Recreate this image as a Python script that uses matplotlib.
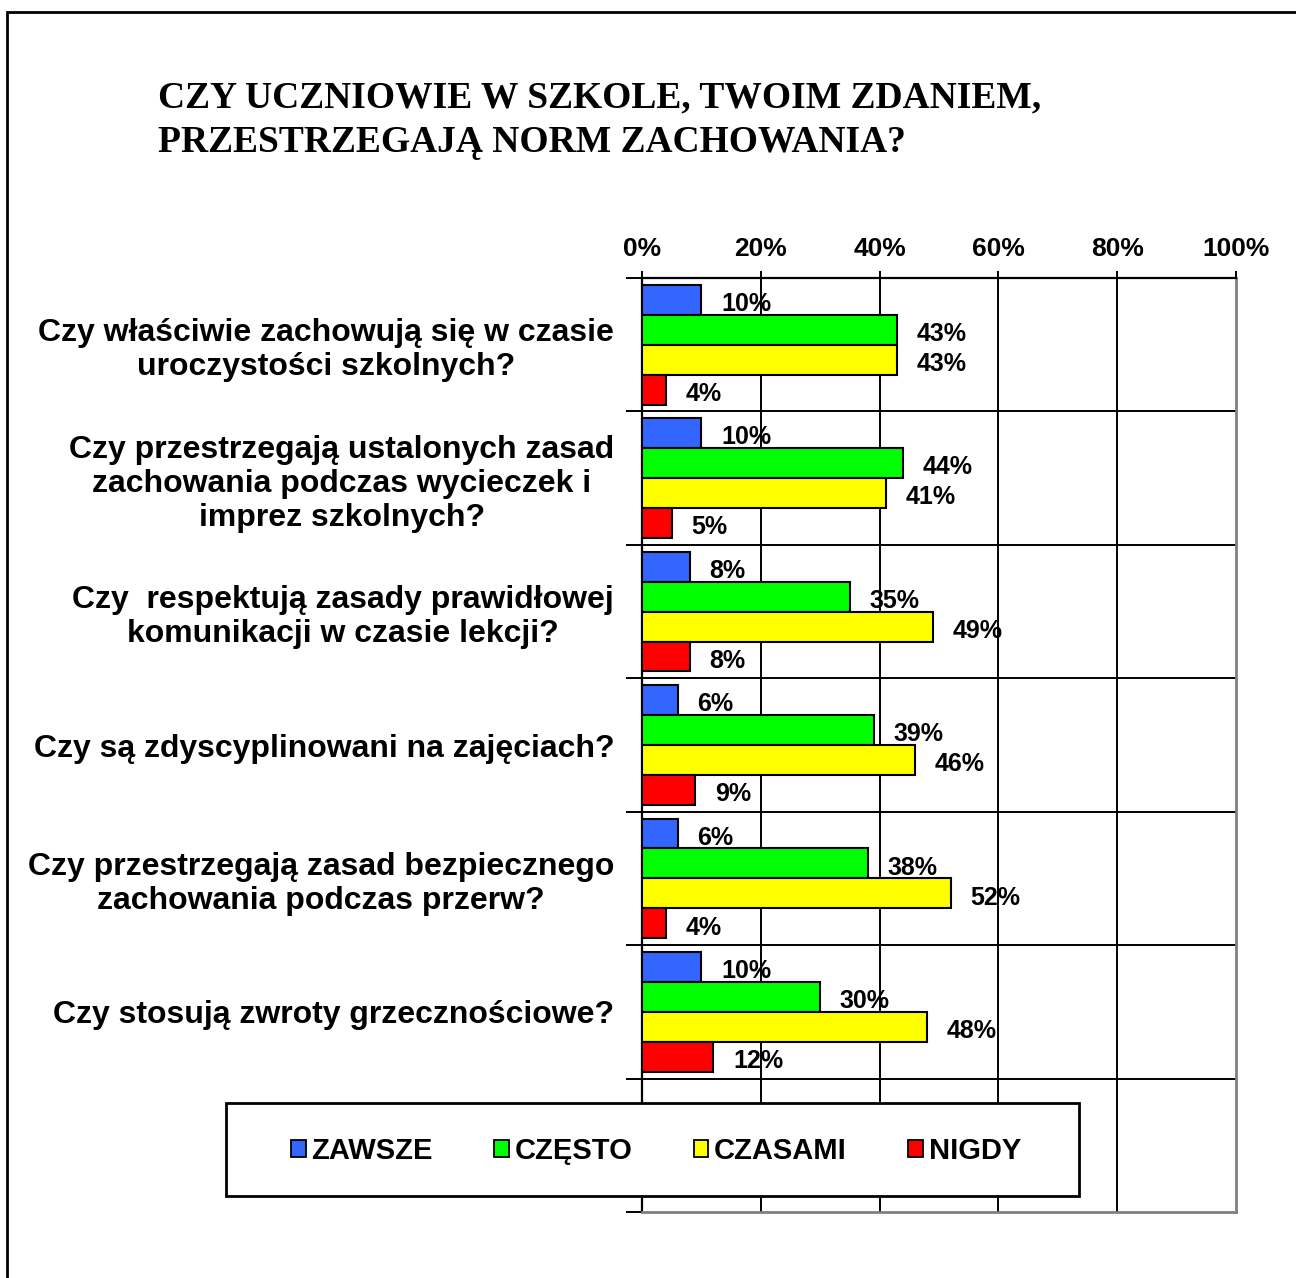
import matplotlib
matplotlib.use("Agg")
import matplotlib.pyplot as plt
from matplotlib.patches import Rectangle, Patch
import numpy as np

categories = [
    "Czy właściwie zachowują się w czasie\nuroczystości szkolnych?",
    "Czy przestrzegają ustalonych zasad\nzachowania podczas wycieczek i\nimprez szkolnych?",
    "Czy  respektują zasady prawidłowej\nkomunikacji w czasie lekcji?",
    "Czy są zdyscyplinowani na zajęciach?",
    "Czy przestrzegają zasad bezpiecznego\nzachowania podczas przerw?",
    "Czy stosują zwroty grzecznościowe?",
]
series_names = ["ZAWSZE", "CZĘSTO", "CZASAMI", "NIGDY"]
zawsze = [10, 10, 8, 6, 6, 10]
czesto = [43, 44, 35, 39, 38, 30]
czasami = [43, 41, 49, 46, 52, 48]
nigdy = [4, 5, 8, 9, 4, 12]
xticks = [0, 20, 40, 60, 80, 100]
title_lines = ["CZY UCZNIOWIE W SZKOLE, TWOIM ZDANIEM,",
               "PRZESTRZEGAJĄ NORM ZACHOWANIA?"]

colors = ["#3366FF", "#00FF00", "#FFFF00", "#FF0000"]
series = [zawsze, czesto, czasami, nigdy]

W, H = 1296, 1278
fig = plt.figure(figsize=(W / 100, H / 100), dpi=100)
fig.patch.set_facecolor("white")

def fx(px):
    return px / W

def fy(py):
    return 1 - py / H

ax = fig.add_axes([fx(642), fy(1212), fx(1236) - fx(642), fy(278) - fy(1212)])
n_slots = 7
ax.set_xlim(0, 100)
ax.set_ylim(n_slots, 0)

bh = 0.2245
for k, (vals, col) in enumerate(zip(series, colors)):
    ys = np.arange(len(categories)) + 0.5 + (k - 1.5) * bh
    ax.barh(ys, vals, height=bh, color=col, edgecolor="black", linewidth=1.5, zorder=3)
    for y, v in zip(ys, vals):
        ax.annotate(f"{v}%", xy=(v + 3.3, y), xytext=(0, -3), textcoords="offset points",
                    ha="left", va="center", fontsize=18, fontweight="bold",
                    family="Liberation Sans", zorder=4)

# grid
for x in xticks[1:-1]:
    ax.axvline(x, color="black", lw=1.4, zorder=1)
for y in range(1, n_slots):
    ax.axhline(y, color="black", lw=1.4, zorder=1)

# spines
ax.spines["top"].set_color("black")
ax.spines["top"].set_linewidth(1.6)
ax.spines["left"].set_color("black")
ax.spines["left"].set_linewidth(1.6)
ax.spines["right"].set_color("#808080")
ax.spines["right"].set_linewidth(2)
ax.spines["bottom"].set_color("#808080")
ax.spines["bottom"].set_linewidth(2)

# x axis on top
ax.xaxis.tick_top()
ax.set_xticks(xticks)
ax.set_xticklabels([f"{t}%" for t in xticks])
ax.tick_params(axis="x", which="major", direction="out", length=5, width=1.4,
               color="black", pad=7, labelsize=19)
for t in ax.get_xticklabels():
    t.set_fontweight("bold")
    t.set_family("Liberation Sans")

# y axis: boundary ticks and category labels
ax.set_yticks(np.arange(0, n_slots + 1))
ax.set_yticklabels([])
ax.tick_params(axis="y", which="major", direction="out", length=11.5, width=1.4, color="black")
ax.set_yticks(np.arange(len(categories)) + 0.5, minor=True)
ax.set_yticklabels(categories, minor=True)
ax.tick_params(axis="y", which="minor", length=0, pad=20, labelsize=23)
for t in ax.get_yticklabels(minor=True):
    t.set_fontweight("bold")
    t.set_family("Liberation Sans")
    t.set_multialignment("center")
    t.set_linespacing(1.17)

# legend box
box = Rectangle((fx(226), fy(1196)), fx(1079) - fx(226), fy(1103) - fy(1196),
                transform=fig.transFigure, facecolor="white", edgecolor="black",
                linewidth=2, zorder=2)
fig.add_artist(box)
handles = [Patch(facecolor=c, edgecolor="black", linewidth=1.3) for c in colors]
leg = fig.legend(handles, series_names, loc="center", bbox_to_anchor=(fx(656), fy(1151)),
                 ncol=4, frameon=False, handlelength=0.5, handleheight=0.55,
                 handletextpad=0.2, columnspacing=2.1,
                 prop={"family": "Liberation Sans", "weight": "bold", "size": 21})
leg.set_zorder(5)

# title
fig.text(fx(158), fy(107), title_lines[0], ha="left", va="baseline",
         fontsize=27, fontweight="bold", family="Liberation Serif")
fig.text(fx(158), fy(152), title_lines[1], ha="left", va="baseline",
         fontsize=27, fontweight="bold", family="Liberation Serif")

# outer border
border = Rectangle((fx(7), fy(1300)), fx(1320) - fx(7), fy(12) - fy(1300),
                   transform=fig.transFigure, facecolor="none", edgecolor="black",
                   linewidth=2, zorder=10, clip_on=False)
fig.add_artist(border)

fig.savefig("out.png", dpi=100)
